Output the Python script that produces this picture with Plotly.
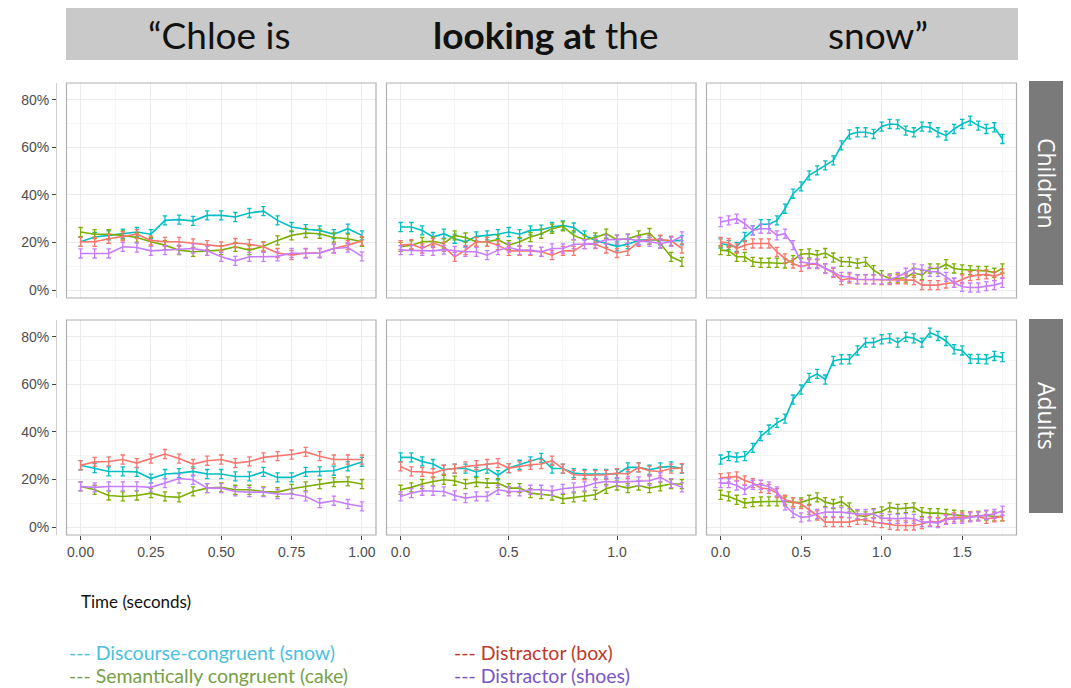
import plotly.graph_objects as go

# ---------------- data (percent looking) ----------------
series_names = ["Discourse-congruent (snow)", "Semantically congruent (cake)",
                "Distractor (box)", "Distractor (shoes)"]
series_colors = ["#00BFC4", "#7CAE00", "#F8766D", "#C77CFF"]

window_labels = ["\u201cChloe is", "<b>looking at</b> the", "snow\u201d"]
group_labels = ["Children", "Adults"]

# time points (seconds) for each window
t_chloe = [round(i * 0.05, 2) for i in range(21)]
t_looking = [round(i * 0.05, 2) for i in range(27)]
t_snow = [round(i * 0.05, 2) for i in range(36)]

# Children, window 1
ch1_snow = [20.3, 22.3, 23.0, 23.7, 24.4, 23.5, 29.3, 29.6, 29.1, 31.4, 31.4, 30.7, 32.4, 33.2, 29.3, 26.5, 25.6, 25.1, 23.5, 25.8, 23.0]
ch1_cake = [24.4, 23.5, 23.5, 23.0, 22.1, 20.3, 18.9, 16.8, 16.1, 16.5, 16.8, 18.2, 16.8, 18.4, 20.9, 23.0, 24.0, 23.7, 22.1, 21.6, 20.3]
ch1_box = [20.3, 20.3, 21.6, 22.6, 23.5, 20.9, 20.3, 20.3, 19.6, 18.9, 18.4, 19.8, 19.3, 18.2, 15.6, 14.7, 15.6, 15.6, 17.5, 18.9, 20.7]
ch1_shoes = [15.4, 15.4, 15.4, 18.2, 17.9, 16.5, 16.8, 17.0, 17.5, 16.5, 14.0, 12.3, 14.0, 14.0, 14.2, 15.6, 15.4, 15.6, 17.5, 17.9, 14.2]

# Children, window 2
ch2_snow = [26.5, 26.5, 25.1, 22.3, 23.7, 21.6, 20.3, 22.6, 23.0, 23.5, 24.4, 23.5, 25.1, 25.4, 26.5, 27.2, 26.3, 23.0, 20.9, 19.8, 18.4, 19.3, 20.9, 21.2, 20.9, 20.7, 20.9]
ch2_cake = [18.2, 18.9, 20.3, 20.5, 19.6, 23.0, 22.1, 20.3, 20.3, 21.2, 18.9, 20.3, 22.3, 23.7, 25.8, 26.8, 23.0, 21.2, 22.1, 23.7, 21.2, 21.6, 23.0, 24.0, 19.6, 14.0, 11.9]
ch2_box = [18.9, 19.3, 17.5, 19.8, 18.2, 14.0, 16.8, 20.3, 20.3, 18.9, 16.5, 16.5, 16.5, 16.1, 14.7, 16.5, 16.5, 19.3, 19.3, 17.5, 15.6, 16.5, 20.3, 21.2, 21.2, 20.7, 17.5]
ch2_shoes = [16.8, 16.8, 16.5, 16.5, 17.0, 16.5, 16.1, 16.1, 14.7, 16.8, 17.9, 16.8, 16.8, 16.1, 17.5, 17.5, 19.3, 19.3, 19.6, 21.2, 21.2, 21.6, 20.7, 20.3, 19.6, 20.3, 22.6]

# Children, window 3
ch3_snow = [19.6, 18.9, 18.2, 22.3, 25.1, 27.7, 27.7, 29.3, 34.2, 40.5, 43.6, 48.2, 50.3, 52.4, 54.5, 60.8, 65.4, 66.3, 66.3, 65.6, 68.7, 69.8, 69.6, 67.0, 66.3, 68.7, 68.4, 66.3, 64.9, 67.7, 69.8, 71.2, 69.1, 67.7, 68.4, 63.5]
ch3_cake = [16.8, 16.5, 14.0, 14.0, 11.9, 11.5, 11.5, 11.5, 11.2, 12.6, 15.1, 15.4, 14.7, 15.6, 13.7, 11.9, 11.9, 11.2, 11.9, 8.4, 6.3, 4.9, 4.9, 5.3, 7.3, 6.3, 9.1, 9.1, 10.9, 9.1, 8.7, 8.4, 8.1, 8.1, 7.3, 9.1]
ch3_box = [20.3, 19.8, 17.5, 18.9, 19.6, 19.6, 19.6, 16.1, 13.3, 11.2, 9.8, 10.9, 10.9, 9.1, 7.3, 4.2, 4.9, 4.5, 4.5, 4.5, 4.2, 4.2, 4.5, 4.5, 4.2, 2.1, 2.1, 2.1, 2.8, 3.1, 4.5, 5.9, 6.3, 6.6, 5.9, 7.0]
ch3_shoes = [28.6, 29.3, 30.0, 27.9, 25.1, 25.8, 25.8, 23.0, 23.7, 18.9, 11.9, 11.2, 11.2, 9.1, 7.7, 5.6, 5.6, 4.6, 4.6, 4.5, 4.5, 4.5, 5.6, 7.3, 9.1, 8.7, 7.7, 7.7, 5.6, 3.1, 1.4, 1.1, 1.1, 1.7, 2.1, 3.1]

# Adults, window 1
ad1_snow = [26.0, 24.8, 23.4, 23.4, 23.2, 20.4, 22.3, 22.7, 23.4, 22.3, 22.3, 21.3, 21.3, 23.2, 20.9, 20.9, 23.2, 23.4, 23.7, 25.5, 27.4]
ad1_cake = [17.1, 15.7, 13.3, 12.9, 13.3, 14.3, 12.9, 12.5, 15.0, 16.4, 16.7, 15.7, 15.7, 15.0, 14.7, 16.1, 17.1, 18.1, 18.9, 19.2, 18.1]
ad1_box = [26.0, 27.4, 27.6, 28.4, 26.9, 28.8, 30.7, 28.8, 26.5, 27.9, 28.4, 26.9, 27.6, 29.3, 29.8, 30.5, 31.6, 29.8, 28.4, 28.4, 28.4]
ad1_shoes = [17.1, 16.7, 17.1, 17.1, 17.1, 16.7, 18.5, 20.4, 19.9, 16.4, 16.4, 15.0, 14.7, 14.7, 13.9, 13.9, 12.9, 10.1, 11.1, 9.7, 8.7]

# Adults, window 2
ad2_snow = [29.3, 29.3, 27.6, 26.5, 24.1, 24.6, 24.6, 23.2, 24.6, 21.8, 24.8, 26.2, 27.6, 29.1, 24.6, 24.6, 22.7, 22.3, 22.3, 22.3, 22.3, 25.1, 25.1, 24.1, 25.1, 25.5, 24.6]
ad2_cake = [15.7, 16.7, 18.1, 19.2, 19.9, 19.5, 18.1, 18.9, 18.5, 18.5, 16.4, 16.4, 14.3, 13.9, 13.3, 11.9, 12.5, 12.9, 13.6, 16.1, 17.5, 16.4, 17.5, 16.4, 17.1, 18.1, 18.1]
ad2_box = [25.5, 23.4, 23.2, 22.7, 24.1, 24.6, 25.5, 26.0, 26.5, 26.9, 24.8, 25.5, 26.2, 26.5, 27.9, 24.6, 22.0, 21.8, 21.8, 22.0, 22.7, 22.3, 25.1, 23.7, 23.4, 24.6, 24.8]
ad2_shoes = [12.9, 14.3, 15.3, 15.3, 15.0, 13.3, 12.2, 12.9, 12.9, 15.7, 15.0, 15.0, 15.7, 15.7, 15.3, 16.1, 16.7, 17.1, 18.5, 19.2, 18.9, 19.2, 19.2, 19.5, 20.9, 18.5, 16.7]

# Adults, window 3
ad3_snow = [28.4, 29.8, 29.3, 29.8, 33.3, 38.2, 41.0, 43.8, 45.6, 53.6, 57.8, 62.7, 64.4, 62.0, 69.8, 70.5, 70.5, 74.2, 77.5, 77.5, 78.9, 79.3, 77.5, 79.9, 79.3, 77.5, 81.7, 80.3, 78.2, 74.7, 74.2, 70.7, 70.7, 70.5, 71.9, 71.4]
ad3_cake = [13.6, 12.9, 11.5, 10.1, 10.5, 10.8, 10.8, 10.8, 10.8, 10.4, 10.4, 11.5, 12.5, 10.5, 9.7, 10.8, 8.3, 4.9, 4.5, 5.9, 6.6, 8.3, 7.7, 8.0, 8.3, 6.3, 5.9, 5.9, 5.5, 5.2, 4.9, 4.5, 4.8, 4.9, 4.5, 4.5]
ad3_box = [20.6, 20.9, 21.3, 19.6, 18.5, 16.4, 16.1, 14.3, 11.5, 10.5, 9.7, 7.3, 4.9, 2.1, 2.1, 2.1, 2.1, 3.1, 3.1, 2.1, 1.7, 1.0, 0.7, 0.7, 0.7, 1.3, 2.4, 2.1, 3.5, 4.1, 4.1, 4.5, 4.5, 3.5, 4.1, 4.5]
ad3_shoes = [18.5, 18.5, 17.5, 15.7, 17.8, 17.8, 17.1, 15.0, 9.1, 5.9, 4.1, 4.5, 5.5, 6.3, 6.3, 6.3, 5.9, 5.5, 5.5, 5.5, 3.8, 3.5, 3.5, 3.8, 3.5, 2.1, 2.1, 1.7, 3.1, 3.5, 3.5, 4.1, 4.5, 5.2, 5.5, 6.9]

# standard error (percentage points) shown as error bars
se_pct = 1.9

y_tick_vals = [0, 20, 40, 60, 80]
y_tick_labels = ["0%", "20%", "40%", "60%", "80%"]
x_tick_vals_1 = [0, 0.25, 0.5, 0.75, 1.0]
x_tick_labels_1 = ["0.00", "0.25", "0.50", "0.75", "1.00"]
x_tick_vals_2 = [0, 0.5, 1.0]
x_tick_labels_2 = ["0.0", "0.5", "1.0"]
x_tick_vals_3 = [0, 0.5, 1.0, 1.5]
x_tick_labels_3 = ["0.0", "0.5", "1.0", "1.5"]

# ---------------- layout helpers ----------------
PAGE_OFFSET = 8          # default body margin of the html page
W, H = 1071 - PAGE_OFFSET, 688 - PAGE_OFFSET


def fx(px):
    return (px - PAGE_OFFSET) / W


def fy(py):
    return 1 - (py - PAGE_OFFSET) / H


col_px = [(66.5, 376), (386.5, 696), (706.5, 1016.5)]
row_px = [(83, 298), (320, 535)]
x_ranges = [[-0.05, 1.05], [-0.065, 1.365], [-0.0875, 1.8375]]
y_range = [-3.3, 87]
x_ticks = [(x_tick_vals_1, x_tick_labels_1), (x_tick_vals_2, x_tick_labels_2), (x_tick_vals_3, x_tick_labels_3)]
x_minor = [[0.125, 0.375, 0.625, 0.875], [0.25, 0.75, 1.25], [0.25, 0.75, 1.25, 1.75]]
times = [t_chloe, t_looking, t_snow]

panels = [
    [[ch1_snow, ch1_cake, ch1_box, ch1_shoes],
     [ch2_snow, ch2_cake, ch2_box, ch2_shoes],
     [ch3_snow, ch3_cake, ch3_box, ch3_shoes]],
    [[ad1_snow, ad1_cake, ad1_box, ad1_shoes],
     [ad2_snow, ad2_cake, ad2_box, ad2_shoes],
     [ad3_snow, ad3_cake, ad3_box, ad3_shoes]],
]

fig = go.Figure()
layout_axes = {}
shapes = []
tick_font = dict(family="Liberation Sans, Arial, sans-serif", size=14, color="#4d4d4d")

for r in range(2):
    for c in range(3):
        idx = r * 3 + c + 1
        xname = "x" if idx == 1 else f"x{idx}"
        yname = "y" if idx == 1 else f"y{idx}"
        xkey = "xaxis" if idx == 1 else f"xaxis{idx}"
        ykey = "yaxis" if idx == 1 else f"yaxis{idx}"
        x0, x1 = col_px[c]
        y0, y1 = row_px[r]
        bottom = (r == 1)
        layout_axes[xkey] = dict(
            domain=[fx(x0), fx(x1)], range=x_ranges[c], anchor=yname,
            tickmode="array", tickvals=x_ticks[c][0], ticktext=x_ticks[c][1],
            showticklabels=bottom, ticks="outside" if bottom else "",
            ticklen=4, tickwidth=1, tickcolor="#444",
            showgrid=True, gridcolor="#ebebeb", gridwidth=1,
            minor=dict(tickvals=x_minor[c], showgrid=True, gridcolor="#f5f5f5", ticks=""),
            showline=False, zeroline=False, tickfont=tick_font,
        )
        ydict = dict(
            domain=[fy(y1), fy(y0)], range=y_range,
            tickmode="array", tickvals=y_tick_vals, ticktext=y_tick_labels,
            showgrid=True, gridcolor="#ebebeb", gridwidth=1,
            minor=dict(tickvals=[10, 30, 50, 70], showgrid=True, gridcolor="#f5f5f5", ticks=""),
            zeroline=False, tickfont=tick_font,
        )
        if c == 0:
            ydict.update(anchor="free", position=fx(56), showticklabels=True,
                         ticks="outside", ticklen=4, tickwidth=1, tickcolor="#444",
                         showline=True, linecolor="#cfcfcf", linewidth=1)
        else:
            ydict.update(anchor=xname, showticklabels=False, ticks="", showline=False)
        layout_axes[ykey] = ydict

        # panel border
        shapes.append(dict(type="rect", xref="paper", yref="paper",
                           x0=fx(x0), x1=fx(x1), y0=fy(y1), y1=fy(y0),
                           line=dict(color="#b0b0b0", width=1.2), fillcolor="rgba(0,0,0,0)",
                           layer="above"))

        for s in range(4):
            fig.add_trace(go.Scatter(
                x=times[c], y=panels[r][c][s], xaxis=xname, yaxis=yname,
                mode="lines", name=series_names[s], showlegend=False,
                line=dict(color=series_colors[s], width=1.6),
                error_y=dict(type="constant", value=se_pct, color=series_colors[s],
                             thickness=1.3, width=2.2),
                hoverinfo="skip",
            ))

# header bar
shapes.append(dict(type="rect", xref="paper", yref="paper",
                   x0=fx(66), x1=fx(1018), y0=fy(60), y1=fy(8),
                   fillcolor="#c9c9c9", line=dict(width=0), layer="below"))
# strips
for (sy0, sy1) in [(81, 285), (319, 513)]:
    shapes.append(dict(type="rect", xref="paper", yref="paper",
                       x0=fx(1029), x1=fx(1065), y0=fy(sy1), y1=fy(sy0),
                       fillcolor="#7a7a7a", line=dict(width=0), layer="below"))

annotations = []
header_font = dict(family="Lato, Open Sans, sans-serif", size=37, color="#111111")
for txt, cx in zip(window_labels, [219, 545, 878]):
    annotations.append(dict(text=txt, x=fx(cx), y=fy(35), xref="paper", yref="paper",
                            showarrow=False, xanchor="center", yanchor="middle", font=header_font))

for txt, (sy0, sy1) in zip(group_labels, [(81, 285), (319, 513)]):
    annotations.append(dict(text=txt, x=fx(1047), y=fy((sy0 + sy1) / 2), xref="paper", yref="paper",
                            showarrow=False, textangle=90, xanchor="center", yanchor="middle",
                            font=dict(family="Open Sans, sans-serif", size=23, color="white")))

annotations.append(dict(text="Time (seconds)", x=fx(79), y=fy(601), xref="paper", yref="paper",
                        showarrow=False, xanchor="left", yanchor="middle",
                        font=dict(family="Lato, Open Sans, sans-serif", size=17, color="#111")))

legend_text_colors = ["#4BBFE0", "#77A045", "#C0392B", "#7B55C6"]
legend_pos = [(67, 652), (67, 675), (452, 652), (452, 675)]
for name, col, (lx, ly) in zip(series_names, legend_text_colors, legend_pos):
    annotations.append(dict(text="--- " + name, x=fx(lx), y=fy(ly), xref="paper", yref="paper",
                            showarrow=False, xanchor="left", yanchor="middle",
                            font=dict(family="Lato, Open Sans, sans-serif", size=19.5, color=col)))

fig.update_layout(
    width=W, height=H, margin=dict(l=0, r=0, t=0, b=0),
    paper_bgcolor="white", plot_bgcolor="white",
    shapes=shapes, annotations=annotations, showlegend=False,
    **layout_axes,
)

fig.write_html("out.html")
